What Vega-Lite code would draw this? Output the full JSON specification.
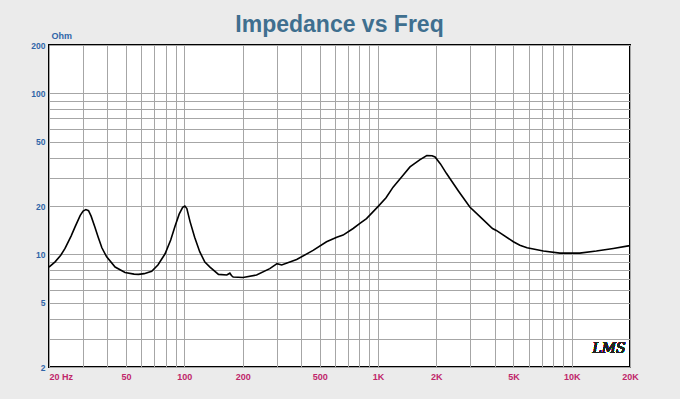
{
  "$schema": "https://vega.github.io/schema/vega-lite/v6.json",
  "width": 581,
  "height": 322,
  "autosize": "none",
  "padding": {"left": 49, "top": 45, "right": 50, "bottom": 32},
  "background": "#ebebeb",
  "title": {
    "text": "Impedance vs Freq",
    "font": "Liberation Sans",
    "fontSize": 23,
    "fontWeight": "bold",
    "color": "#3f6f8f",
    "anchor": "middle",
    "frame": "group",
    "offset": -6
  },
  "config": {
    "view": {"fill": "white", "stroke": "black", "strokeWidth": 2},
    "axis": {"domain": false, "ticks": false, "gridColor": "#a6a6a6", "gridWidth": 1, "gridOpacity": 1, "labelFont": "Liberation Sans", "labelFontWeight": "bold", "labelFlush": false, "labelOverlap": false, "labelBound": false}
  },
  "data": {
    "values": [
      {"freq": 20, "ohm": 8.35},
      {"freq": 21.5, "ohm": 9.0},
      {"freq": 23, "ohm": 9.9},
      {"freq": 24.2, "ohm": 10.9},
      {"freq": 26, "ohm": 13.0},
      {"freq": 27.3, "ohm": 14.9},
      {"freq": 29, "ohm": 17.5},
      {"freq": 30, "ohm": 18.6},
      {"freq": 31, "ohm": 19.0},
      {"freq": 32, "ohm": 18.7},
      {"freq": 33, "ohm": 17.3},
      {"freq": 34.5, "ohm": 14.8},
      {"freq": 35.9, "ohm": 12.8},
      {"freq": 37.5, "ohm": 11.0},
      {"freq": 39.7, "ohm": 9.66},
      {"freq": 43.9, "ohm": 8.35},
      {"freq": 49.4, "ohm": 7.72},
      {"freq": 55, "ohm": 7.55},
      {"freq": 58, "ohm": 7.52},
      {"freq": 62, "ohm": 7.6},
      {"freq": 67.8, "ohm": 7.86},
      {"freq": 73, "ohm": 8.6},
      {"freq": 79.5, "ohm": 10.1},
      {"freq": 85, "ohm": 12.3},
      {"freq": 89.4, "ohm": 14.9},
      {"freq": 94, "ohm": 17.8},
      {"freq": 98, "ohm": 19.6},
      {"freq": 100.6, "ohm": 20.0},
      {"freq": 103, "ohm": 19.3},
      {"freq": 107, "ohm": 16.0},
      {"freq": 113, "ohm": 12.8},
      {"freq": 120, "ohm": 10.4},
      {"freq": 127.6, "ohm": 8.98},
      {"freq": 135.6, "ohm": 8.35},
      {"freq": 150, "ohm": 7.52},
      {"freq": 165.6, "ohm": 7.45},
      {"freq": 171.8, "ohm": 7.65},
      {"freq": 175, "ohm": 7.4},
      {"freq": 178.7, "ohm": 7.24},
      {"freq": 201, "ohm": 7.2},
      {"freq": 236, "ohm": 7.45},
      {"freq": 276, "ohm": 8.17},
      {"freq": 301, "ohm": 8.77},
      {"freq": 318, "ohm": 8.6},
      {"freq": 380, "ohm": 9.3},
      {"freq": 462, "ohm": 10.6},
      {"freq": 542, "ohm": 12.0},
      {"freq": 612, "ohm": 12.8},
      {"freq": 660, "ohm": 13.2},
      {"freq": 744, "ohm": 14.5},
      {"freq": 806, "ohm": 15.6},
      {"freq": 872, "ohm": 16.7},
      {"freq": 1002, "ohm": 19.9},
      {"freq": 1100, "ohm": 22.5},
      {"freq": 1196, "ohm": 26.2},
      {"freq": 1330, "ohm": 30.5},
      {"freq": 1462, "ohm": 35.0},
      {"freq": 1648, "ohm": 38.8},
      {"freq": 1786, "ohm": 41.2},
      {"freq": 1900, "ohm": 41.0},
      {"freq": 1970, "ohm": 40.3},
      {"freq": 2100, "ohm": 36.5},
      {"freq": 2258, "ohm": 31.8},
      {"freq": 2600, "ohm": 24.8},
      {"freq": 2978, "ohm": 19.7},
      {"freq": 3360, "ohm": 17.2},
      {"freq": 3900, "ohm": 14.5},
      {"freq": 4080, "ohm": 14.1},
      {"freq": 5000, "ohm": 12.0},
      {"freq": 5400, "ohm": 11.4},
      {"freq": 5880, "ohm": 11.0},
      {"freq": 7140, "ohm": 10.5},
      {"freq": 8690, "ohm": 10.2},
      {"freq": 11000, "ohm": 10.2},
      {"freq": 13400, "ohm": 10.5},
      {"freq": 16400, "ohm": 10.9},
      {"freq": 19600, "ohm": 11.3},
      {"freq": 20000, "ohm": 11.3}
    ]
  },
  "layer": [
    {
      "mark": {"type": "line", "color": "black", "strokeWidth": 1.6, "clip": true},
      "encoding": {
        "x": {
          "field": "freq", "type": "quantitative",
          "scale": {"type": "log", "domain": [20, 20000], "nice": false},
          "axis": {
            "title": null,
            "values": [20, 30, 40, 50, 60, 70, 80, 90, 100, 200, 300, 400, 500, 600, 700, 800, 900, 1000, 2000, 3000, 4000, 5000, 6000, 7000, 8000, 9000, 10000, 20000],
            "labelExpr": "datum.value == 20 ? '20  Hz' : datum.value == 1000 ? '1K' : datum.value == 2000 ? '2K' : datum.value == 5000 ? '5K' : datum.value == 10000 ? '10K' : datum.value == 20000 ? '20K' : (datum.value == 50 || datum.value == 100 || datum.value == 200 || datum.value == 500) ? datum.label : ''",
            "labelAlign": {"condition": {"test": "datum.value == 20", "value": "left"}, "value": "center"},
            "labelColor": "#c0266a",
            "labelFontSize": 9,
            "labelPadding": 5
          }
        },
        "y": {
          "field": "ohm", "type": "quantitative",
          "scale": {"type": "log", "domain": [2, 200], "nice": false},
          "axis": {
            "title": "Ohm",
            "titleAngle": 0,
            "titleX": 2,
            "titleY": -5,
            "titleAlign": "left",
            "titleBaseline": "bottom",
            "titleFont": "Liberation Sans",
            "titleFontSize": 9,
            "titleFontWeight": "bold",
            "titleColor": "#3065a8",
            "values": [2, 3, 4, 5, 6, 7, 8, 9, 10, 20, 30, 40, 50, 60, 70, 80, 90, 100, 200],
            "labelExpr": "(datum.value == 2 || datum.value == 5 || datum.value == 10 || datum.value == 20 || datum.value == 50 || datum.value == 100 || datum.value == 200) ? datum.label : ''",
            "labelColor": "#3065a8",
            "labelFontSize": 8.5,
            "labelPadding": 4
          }
        }
      }
    },
    {
      "mark": {"type": "text", "text": "LMS", "font": "DejaVu Serif", "fontStyle": "italic", "fontWeight": 200, "fontSize": 14, "fill": "#222222", "strokeWidth": 0},
      "encoding": {
        "x": {"datum": 15600, "type": "quantitative"},
        "y": {"datum": 2.58, "type": "quantitative"}
      }
    }
  ]
}
